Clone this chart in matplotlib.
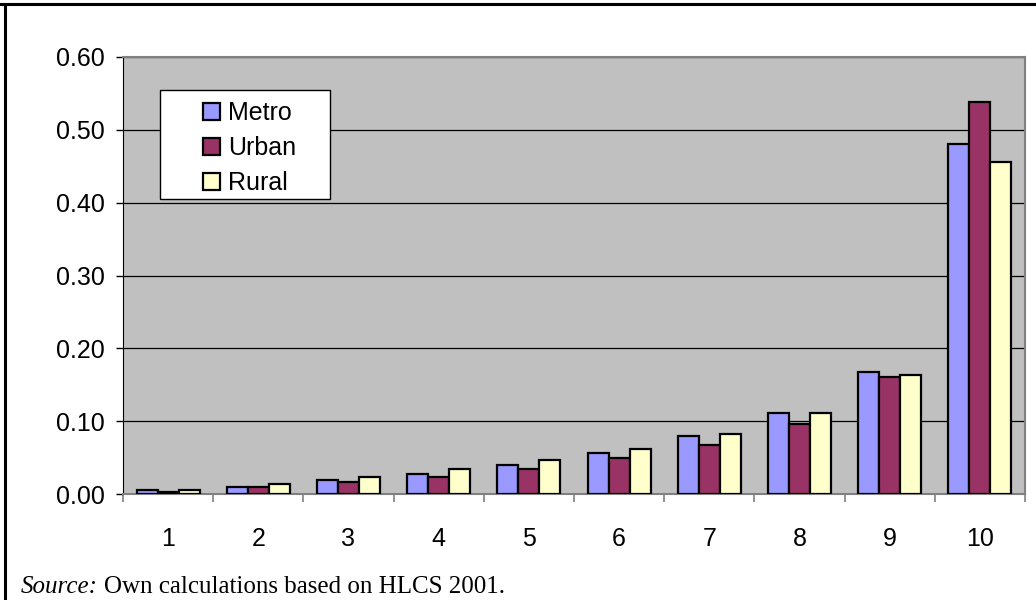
import numpy as np
import matplotlib
matplotlib.use('Agg')
import matplotlib.pyplot as plt
from matplotlib.lines import Line2D
from matplotlib.patches import Rectangle
from matplotlib.container import BarContainer
from matplotlib.legend_handler import HandlerPatch, update_from_first_child

# Deciles and shares by area type
deciles = ['1', '2', '3', '4', '5', '6', '7', '8', '9', '10']
metro = [0.005, 0.009, 0.019, 0.028, 0.040, 0.056, 0.080, 0.111, 0.168, 0.480]
urban = [0.003, 0.009, 0.016, 0.024, 0.035, 0.049, 0.067, 0.096, 0.160, 0.538]
rural = [0.005, 0.014, 0.023, 0.034, 0.047, 0.062, 0.082, 0.111, 0.164, 0.456]
series_names = ['Metro', 'Urban', 'Rural']
colors = ['#9999FF', '#993366', '#FFFFCC']

plt.rcParams['font.family'] = ['Liberation Sans', 'DejaVu Sans']
FS = 18

fig = plt.figure(figsize=(10.36, 6), dpi=100)
ax = fig.add_axes([123 / 1036, 1 - 494 / 600, (1025 - 123) / 1036, (494 - 57) / 600])
ax.set_facecolor('#C0C0C0')

x = np.arange(len(deciles))
w = 0.233
for i, (vals, name, c) in enumerate(zip([metro, urban, rural], series_names, colors)):
    ax.bar(x + (i - 1) * w, vals, width=w, color=c, edgecolor='black', linewidth=1.6,
           label=name, zorder=3)

ax.set_xlim(-0.5, len(deciles) - 0.5)
ax.set_ylim(0, 0.6)
yt = np.arange(0, 0.61, 0.1)
ax.set_yticks(yt)
ax.set_yticklabels([f'{v:.2f}' for v in yt], fontsize=FS)
ax.yaxis.grid(True, color='black', linewidth=0.9, zorder=1)
ax.set_axisbelow(True)

# category labels centered, tick marks on category boundaries
ax.set_xticks(x)
ax.set_xticklabels(deciles, fontsize=FS)
ax.tick_params(axis='x', length=0, pad=24)
ax.set_xticks(np.arange(-0.5, len(deciles), 1), minor=True)
ax.tick_params(axis='x', which='minor', length=6, color='#808080', width=1.2)
ax.tick_params(axis='y', length=5, color='black', width=1, pad=8)

for s in ['top', 'right', 'bottom']:
    ax.spines[s].set_color('#808080')
    ax.spines[s].set_linewidth(1.5)
ax.spines['left'].set_color('black')


# square legend keys sitting at the right end of the handle box
def square_key(legend, orig_handle, xdescent, ydescent, width, height, fontsize):
    return Rectangle((-xdescent + width - height, -ydescent), height, height)


leg = ax.legend(loc='upper left', bbox_to_anchor=(160 / 1036, 1 - 90 / 600),
                bbox_transform=fig.transFigure, fontsize=FS, frameon=False,
                handler_map={BarContainer: HandlerPatch(patch_func=square_key,
                                                        update_func=update_from_first_child)},
                handlelength=1.95, handleheight=0.64, handletextpad=0.32,
                labelspacing=0.44, borderpad=0.45, borderaxespad=0)
leg.set_zorder(6)
for h in leg.legend_handles:
    h.set_linewidth(1.6)
ax.add_patch(Rectangle((160 / 1036, 1 - 199 / 600), 170 / 1036, 109 / 600,
                       transform=fig.transFigure, facecolor='white', edgecolor='black',
                       linewidth=1.0, zorder=5, clip_on=False))

# frame lines of the original figure box
fig.add_artist(Line2D([0, 1], [1 - 3.5 / 600, 1 - 3.5 / 600], color='black', linewidth=2.2,
                      transform=fig.transFigure))
fig.add_artist(Line2D([4.5 / 1036, 4.5 / 1036], [0, 1 - 3.5 / 600], color='black', linewidth=2.2,
                      transform=fig.transFigure))

# source note
t1 = fig.text(21 / 1036, 1 - 593 / 600, 'Source:', fontsize=FS, style='italic',
              family=['Liberation Serif'], va='baseline')
fig.canvas.draw()
bb = t1.get_window_extent()
fig.text((bb.x1 + 6) / 1036, 1 - 593 / 600, 'Own calculations based on HLCS 2001.', fontsize=FS,
         family=['Liberation Serif'], va='baseline')

fig.savefig('out.png', dpi=100)
